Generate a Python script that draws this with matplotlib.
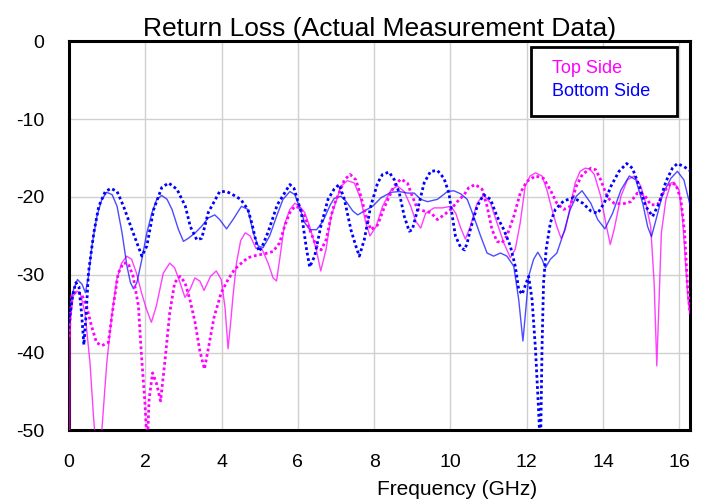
import matplotlib
matplotlib.use("Agg")
import matplotlib.pyplot as plt
from matplotlib.patches import Rectangle

plt.rcParams['font.family'] = ['Liberation Sans', 'DejaVu Sans']

title = "Return Loss (Actual Measurement Data)"
xlabel = "Frequency (GHz)"
legend_labels = ["Top Side", "Bottom Side"]
x_ticks = [0, 2, 4, 6, 8, 10, 12, 14, 16]
y_ticks = [0, -10, -20, -30, -40, -50]

# Top side, solid trace
top_solid_f = [0.0, 0.02, 0.03, 0.11, 0.2, 0.29, 0.42, 0.55, 0.64, 0.75, 0.86, 0.99, 1.12, 1.25, 1.38, 1.51,
               1.64, 1.77, 1.9, 2.03, 2.16, 2.29, 2.47, 2.64, 2.77, 2.91, 3.04, 3.17, 3.3, 3.43, 3.54, 3.71,
               3.86, 3.99, 4.09, 4.17, 4.24, 4.3, 4.39, 4.5, 4.62, 4.75, 4.9, 5.05, 5.22, 5.35, 5.44, 5.52,
               5.65, 5.79, 5.92, 6.05, 6.18, 6.31, 6.48, 6.6, 6.74, 6.87, 6.96, 7.13, 7.3, 7.48, 7.65, 7.78,
               7.89, 8.05, 8.22, 8.44, 8.61, 8.79, 8.96, 9.09, 9.22, 9.35, 9.57, 9.79, 10.01, 10.14, 10.27,
               10.39, 10.52, 10.7, 10.87, 11.05, 11.22, 11.4, 11.57, 11.7, 11.83, 11.96, 12.09, 12.23, 12.4,
               12.53, 12.66, 12.79, 12.9, 13.01, 13.14, 13.27, 13.4, 13.53, 13.65, 13.77, 13.94, 14.07, 14.19,
               14.29, 14.47, 14.64, 14.82, 14.99, 15.12, 15.25, 15.34, 15.41, 15.47, 15.53, 15.65, 15.78,
               15.86, 15.99, 16.08, 16.17, 16.23, 16.28]
top_solid_db = [-55, -50, -36, -32.7, -32.1, -32.3, -34.9, -41.3, -48.1, -55, -50, -41.3, -35.3, -30.6, -28.5, -27.6,
                -28.0, -29.8, -32.3, -34.4, -36.1, -34.0, -29.8, -28.5, -29.1, -31.0, -32.9, -31.9, -30.4, -30.8, -32.0, -30.2,
                -29.5, -30.6, -34.2, -39.5, -36.0, -32.7, -28.5, -25.6, -24.6, -25.0, -26.6, -26.6, -28.5, -30.4, -30.8, -28.1,
                -23.5, -21.6, -20.8, -21.2, -22.0, -23.8, -26.7, -29.5, -26.7, -22.5, -21.2, -18.6, -17.9, -18.2, -20.3, -23.3,
                -25.0, -23.8, -21.2, -19.1, -18.6, -19.3, -21.2, -23.1, -24.0, -22.1, -21.4, -21.4, -21.2, -22.1, -24.0,
                -25.4, -23.8, -20.8, -19.7, -20.8, -23.3, -25.9, -27.8, -26.7, -23.3, -18.6, -17.3, -16.9, -17.3,
                -19.1, -21.6, -23.8, -25.3, -24.2, -21.2, -18.2, -16.7, -16.3, -16.4, -17.1, -19.9, -23.3, -26.1,
                -24.2, -19.9, -17.8, -17.3, -18.6, -20.8, -23.8, -31.0, -41.7, -33.2, -24.6, -20.3, -18.2,
                -18.1, -19.1, -22.5, -28.9, -33.2, -35.0]

# Top side, dotted trace
top_dot_f = [0.0, 0.07, 0.2, 0.33, 0.46, 0.59, 0.72, 0.86, 1.03, 1.16, 1.29, 1.42, 1.55, 1.68, 1.82, 1.9, 1.99,
             2.05, 2.1, 2.19, 2.29, 2.4, 2.51, 2.64, 2.77, 2.91, 3.04, 3.17, 3.3, 3.43, 3.55, 3.67, 3.8, 3.99,
             4.17, 4.34, 4.52, 4.69, 4.91, 5.13, 5.35, 5.52, 5.65, 5.79, 5.92, 6.05, 6.18, 6.31, 6.48, 6.61,
             6.74, 6.87, 6.95, 7.08, 7.22, 7.37, 7.52, 7.65, 7.79, 7.91, 8.09, 8.26, 8.52, 8.7, 8.87, 9.0, 9.14,
             9.31, 9.48, 9.66, 9.83, 10.01, 10.18, 10.36, 10.48, 10.65, 10.83, 10.96, 11.09, 11.22, 11.35,
             11.48, 11.66, 11.83, 12.0, 12.23, 12.44, 12.62, 12.79, 12.97, 13.14, 13.3, 13.46, 13.68, 13.81,
             13.94, 14.12, 14.29, 14.51, 14.73, 14.9, 15.08, 15.25, 15.43, 15.6, 15.78, 15.91, 16.04, 16.14,
             16.21, 16.28]
top_dot_db = [-38, -32.7, -32.1, -32.5, -34.0, -36.6, -38.7, -39.1, -38.7, -34.0, -29.8, -28.5, -28.5, -30.2, -34.0, -40.4, -46.4,
              -52, -46, -42.6, -43.9, -46.2, -41.3, -34.9, -31.0, -30.2, -31.0, -33.2, -36.0, -39.8, -42.1, -39.0, -35.5, -32.3,
              -30.6, -29.3, -28.5, -27.8, -27.5, -27.3, -27.0, -25.9, -23.8, -22.0, -21.2, -21.4, -22.5, -24.2, -26.3, -26.8,
              -25.5, -22.5, -21.0, -19.5, -17.8, -17.1, -17.8, -19.9, -22.5, -24.2, -23.6, -21.4, -18.6, -17.7, -18.2, -19.9, -21.6,
              -21.8, -22.0, -22.9, -22.3, -21.6, -20.6, -19.7, -18.8, -18.4, -19.0, -21.2, -24.2, -25.7, -25.9,
              -25.0, -22.5, -19.5, -18.0, -17.3, -17.6, -19.1, -20.8, -21.6, -21.2, -18.6, -17.1, -16.3, -16.5,
              -17.8, -20.1, -20.8, -20.9, -20.6, -19.5, -19.7, -21.0, -21.0, -19.3, -18.2, -18.4, -20.3, -24.6,
              -31.0, -35.0]

# Bottom side, solid trace
bot_solid_f = [0.0, 0.06, 0.12, 0.22, 0.34, 0.43, 0.51, 0.6, 0.73, 0.86, 0.99, 1.13, 1.26, 1.39, 1.52, 1.61, 1.69,
               1.78, 1.91, 2.04, 2.17, 2.3, 2.43, 2.57, 2.7, 2.87, 3.0, 3.13, 3.31, 3.47, 3.65, 3.82, 3.95, 4.13,
               4.3, 4.52, 4.69, 4.83, 4.96, 5.09, 5.26, 5.44, 5.61, 5.79, 5.92, 6.05, 6.18, 6.31, 6.49, 6.66,
               6.85, 6.95, 7.13, 7.27, 7.44, 7.57, 7.74, 7.96, 8.18, 8.44, 8.66, 8.88, 9.05, 9.22, 9.4, 9.66,
               9.92, 10.09, 10.27, 10.44, 10.61, 10.79, 10.96, 11.13, 11.31, 11.48, 11.66, 11.79, 11.9, 11.96,
               12.05, 12.18, 12.29, 12.4, 12.49, 12.62, 12.79, 12.97, 13.14, 13.3, 13.45, 13.68, 13.86, 14.05,
               14.25, 14.47, 14.69, 14.86, 15.04, 15.17, 15.27, 15.39, 15.56, 15.78, 15.95, 16.12, 16.28]
bot_solid_db = [-37, -33, -31.9, -30.6, -31.2, -32.3, -30.2, -26.3, -22.5, -20.3, -19.4, -19.7, -21.2, -24.6, -28.9, -31.0, -31.8,
                -31.0, -28.0, -24.6, -22.1, -20.3, -19.8, -20.3, -21.6, -24.2, -25.7, -25.3, -24.6, -23.8, -22.7, -22.3, -22.9, -24.1,
                -22.9, -21.2, -21.6, -24.6, -26.3, -26.5, -25.0, -22.5, -20.3, -19.3, -19.7, -21.4, -23.3, -24.2, -24.2, -23.1,
                -21.0, -20.2, -19.9, -20.6, -21.8, -22.3, -21.8, -21.2, -20.1, -19.4, -19.3, -19.5, -19.5, -20.3, -20.6, -20.3,
                -19.3, -19.2, -19.6, -20.3, -22.5, -25.0, -27.2, -27.6, -27.2, -27.6, -28.9, -33.2, -38.5, -35.3,
                -30.2, -28.0, -27.1, -28.0, -29.1, -28.0, -27.2, -24.6, -21.6, -19.9, -19.2, -20.8, -22.9, -24.1,
                -22.1, -19.1, -17.3, -17.8, -20.8, -23.8, -25.1, -22.9, -19.7, -17.6, -16.7, -17.8, -21.0]

# Bottom side, dotted trace
bot_dot_f = [0.0, 0.1, 0.18, 0.26, 0.33, 0.39, 0.45, 0.51, 0.65, 0.78, 0.95, 1.1, 1.26, 1.43, 1.65, 1.91, 2.04,
             2.22, 2.43, 2.61, 2.83, 3.05, 3.18, 3.35, 3.48, 3.65, 3.95, 4.13, 4.26, 4.5, 4.69, 4.8, 4.91, 4.98,
             5.06, 5.22, 5.46, 5.79, 5.9, 6.09, 6.22, 6.31, 6.44, 6.6, 6.79, 6.95, 7.08, 7.22, 7.39, 7.52, 7.61,
             7.74, 7.91, 8.09, 8.22, 8.39, 8.53, 8.66, 8.79, 8.92, 9.0, 9.14, 9.31, 9.48, 9.66, 9.83, 9.96,
             10.05, 10.13, 10.27, 10.37, 10.44, 10.52, 10.7, 10.87, 11.05, 11.22, 11.4, 11.57, 11.7, 11.79,
             11.88, 11.96, 12.05, 12.14, 12.23, 12.31, 12.36, 12.4, 12.44, 12.51, 12.62, 12.75, 12.97, 13.23,
             13.47, 13.68, 13.86, 14.03, 14.21, 14.42, 14.62, 14.77, 14.95, 15.12, 15.3, 15.47, 15.65, 15.82,
             15.95, 16.12, 16.28]
bot_dot_db = [-36, -32.5, -31.0, -31.5, -35, -39, -35, -29.7, -24.6, -21.2, -19.3, -18.9, -19.3, -21.2, -24.2, -27.6, -26.3,
              -21.6, -18.8, -18.2, -19.0, -21.2, -23.8, -25.5, -25.3, -22.0, -19.3, -19.3, -19.6, -20.3, -21.6, -23.5, -25.9, -27.0,
              -26.4, -24.5, -21.0, -18.4, -18.9, -22.0, -26.5, -29.0, -27.6, -23.8, -20.3, -19.0, -18.4, -20.3, -24.2, -26.3, -27.6,
              -25.5, -21.2, -18.2, -17.1, -16.8, -17.8, -19.5, -22.5, -24.4, -24.2, -21.6, -18.2, -16.7, -16.6, -17.6, -19.5,
              -22.5, -25.0, -26.5, -26.8, -25.9, -24.2, -21.2, -19.7, -20.3, -22.5, -24.2, -26.3, -28.9, -31.9,
              -32.5, -31.4, -30.2, -33.2, -39.6, -47.3, -53, -39.6, -31.1, -26.7, -23.3, -21.6, -20.5, -20.1,
              -20.8, -21.8, -22.1, -20.8, -18.6, -16.7, -15.7, -16.3, -18.6, -21.2, -22.5, -20.8, -18.0, -16.3,
              -15.7, -16.1, -16.6]

MAGENTA = "#ff00ff"
BLUE = "#0000ff"

fig = plt.figure(figsize=(7.05, 4.99), dpi=100)
ax = fig.add_axes([0.0979, 0.1373, 0.8808, 0.7799])

ax.plot(top_solid_f, top_solid_db, color=MAGENTA, lw=1.0, alpha=0.75, zorder=3)
ax.plot(bot_solid_f, bot_solid_db, color=BLUE, lw=1.0, alpha=0.7, zorder=3)
ax.plot(top_dot_f, top_dot_db, color=MAGENTA, lw=2.0, ls=(0, (1, 1)), zorder=4)
ax.plot(bot_dot_f, bot_dot_db, color=BLUE, lw=2.0, ls=(0, (1, 1)), zorder=4)

ax.set_xlim(0, 16.28)
ax.set_ylim(-50, 0)
ax.set_xticks(x_ticks)
ax.set_yticks(y_ticks)
ax.set_xticklabels([str(v) for v in x_ticks])
ax.set_yticklabels([str(v) for v in y_ticks])
ax.tick_params(axis='both', length=0, labelsize=14, colors='black')
ax.tick_params(axis='x', pad=17)
ax.tick_params(axis='y', pad=18)
ax.grid(True, color='#d0d0d0', lw=1.0)
ax.set_axisbelow(True)
for s in ax.spines.values():
    s.set_linewidth(2.2)
    s.set_color('black')

ax.set_title(title, fontsize=19, pad=3)
ax.set_xlabel(xlabel, fontsize=15)
ax.xaxis.set_label_coords(0.625, -0.128)

# legend box
ax.add_patch(Rectangle((0.744, 0.808), 0.235, 0.177, transform=ax.transAxes,
                       facecolor='white', edgecolor='black', lw=2.0, zorder=6))
ax.text(0.778, 0.929, legend_labels[0], color=MAGENTA, fontsize=13, va='center', ha='left',
        transform=ax.transAxes, zorder=7)
ax.text(0.778, 0.872, legend_labels[1], color=BLUE, fontsize=13, va='center', ha='left',
        transform=ax.transAxes, zorder=7)

fig.savefig("out.png", dpi=100)
